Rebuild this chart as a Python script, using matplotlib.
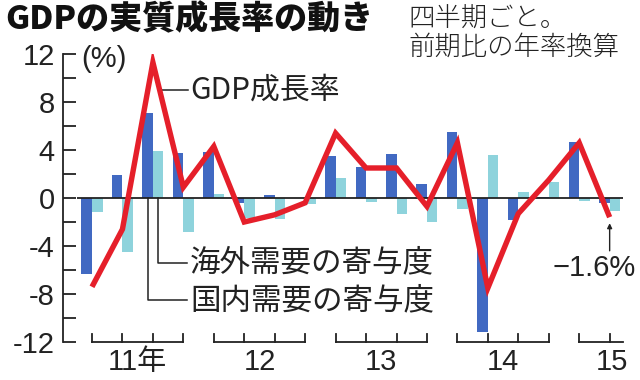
import matplotlib
matplotlib.use("Agg")
import matplotlib.pyplot as plt
import numpy as np

# ---- data (quarterly, 2011Q1 .. 2015Q2) ----
domestic = [-6.3, 1.9, 7.1, 3.75, 3.8, -0.4, 0.25, 0.0, 3.5, 2.6, 3.7, 1.2,
            5.5, -11.2, -1.8, 0.1, 4.7, -0.4]
foreign = [-1.2, -4.5, 3.9, -2.8, 0.3, -1.7, -1.75, -0.5, 1.7, -0.3, -1.3, -2.0,
           -0.9, 3.6, 0.5, 1.3, -0.25, -1.1]
gdp = [-7.4, -2.6, 11.3, 0.9, 4.3, -2.0, -1.4, -0.4, 5.4, 2.5, 2.5, -0.7,
       4.6, -7.5, -1.3, 1.5, 4.6, -1.6]
year_labels = ["11年", "12", "13", "14", "15"]
year_quarters = [4, 4, 4, 4, 2]
yticks = [12, 8, 4, 0, -4, -8, -12]

CJK = "Noto Sans CJK JP"
NUM = ["Liberation Sans Narrow", "Liberation Sans", CJK]
plt.rcParams["font.family"] = [CJK, "DejaVu Sans"]

DARK = "#4169C2"
LIGHT = "#8ED3DC"
RED = "#E51F2A"

fig = plt.figure(figsize=(6.4, 3.8), dpi=100)
W, H = 640, 380
x0px, dx = 92.0, 30.45
xl = (63 - x0px) / dx
xr = (623 - x0px) / dx
ax = fig.add_axes([63 / W, 1 - 342 / H, (623 - 63) / W, (342 - 54) / H])
ax.set_xlim(xl, xr)
ax.set_ylim(-12, 12)

n = len(gdp)
x = np.arange(n)
bw = 0.345
ax.bar(x - bw / 2, domestic, width=bw, color=DARK, zorder=2, linewidth=0)
ax.bar(x + bw / 2, foreign, width=bw, color=LIGHT, zorder=2, linewidth=0)
ax.hlines(0, (77 - x0px) / dx, xr, color="#222222", lw=1.3, zorder=3)
ax.plot(x, gdp, color=RED, lw=3.9, zorder=5, solid_joinstyle="miter",
        solid_capstyle="butt")

# axes styling
for s in ["top", "right", "bottom"]:
    ax.spines[s].set_visible(False)
ax.spines["left"].set_linewidth(1.3)
ax.spines["left"].set_color("#222222")
ax.set_yticks(yticks)
ax.set_yticklabels([str(v) if v >= 0 else "-" + str(-v) for v in yticks],
                   family=NUM, fontsize=21, color="#222222")
ax.set_yticks(np.arange(-12, 13, 2), minor=True)
ax.tick_params(axis="y", which="both", direction="in", length=9.5, width=1.3,
               color="#222222", pad=6)
ax.set_xticks([])

# year brackets under the plot
start = 0
tick_h = 0.65
for lab, nq in zip(year_labels, year_quarters):
    xs = x[start:start + nq]
    right = xs[-1] if nq == 4 else xr
    ax.plot([xs[0], right], [-12, -12], color="#222222", lw=1.3,
            clip_on=False, zorder=4)
    for xi in xs:
        ax.plot([xi, xi], [-12, -12 + tick_h], color="#222222", lw=1.3,
                clip_on=False, zorder=4)
    cx = (xs[0] + xs[-1]) / 2 if nq == 4 else (612 - x0px) / dx
    ax.text(cx, -13.7, lab, ha="center", va="center", family=NUM,
            fontsize=21, color="#222222", clip_on=False)
    start += nq

# unit label
ax.text(-0.35, 11.6, "(%)", ha="left", va="center", family=NUM, fontsize=21,
        color="#222222")

# annotations
ax.plot([2.30, 3.15], [9.0, 9.0], color="#222222", lw=1.1, zorder=4)
ax.text(3.22, 9.0, "GDP成長率", ha="left", va="center", fontsize=21.5,
        color="#222222", family=[CJK, "DejaVu Sans"])

ax.plot([2 + bw / 2, 2 + bw / 2, 3.12], [0, -5.4, -5.4], color="#222222",
        lw=1.1, zorder=4)
ax.plot([2 - bw / 2, 2 - bw / 2, 3.12], [0, -8.5, -8.5], color="#222222",
        lw=1.1, zorder=4)
ax.text(3.22, -5.4, "海外需要の寄与度", ha="left", va="center", fontsize=22,
        color="#222222")
ax.text(3.22, -8.55, "国内需要の寄与度", ha="left", va="center", fontsize=22,
        color="#222222")

ax.annotate("", xy=(x[-1], gdp[-1] - 0.5), xytext=(x[-1], -4.4),
            arrowprops=dict(arrowstyle="-|>", color="#222222", lw=1.0,
                            mutation_scale=7, shrinkA=0, shrinkB=0))
ax.text((553 - x0px) / dx, -5.8, "−1.6%", ha="left", va="center",
        family=["Liberation Sans", CJK], fontsize=21, color="#222222")

# titles
fig.text(5 / W, 1 - 20 / H, "GDPの実質成長率の動き", ha="left", va="center",
         fontsize=23.8, fontweight="heavy", color="#111111")
fig.text(408 / W, 1 - 19 / H, "四半期ごと。", ha="left", va="center",
         fontsize=19, fontweight="light", color="#222222")
fig.text(408 / W, 1 - 47 / H, "前期比の年率換算", ha="left", va="center",
         fontsize=19, fontweight="light", color="#222222")

fig.savefig("out.png", dpi=100)
